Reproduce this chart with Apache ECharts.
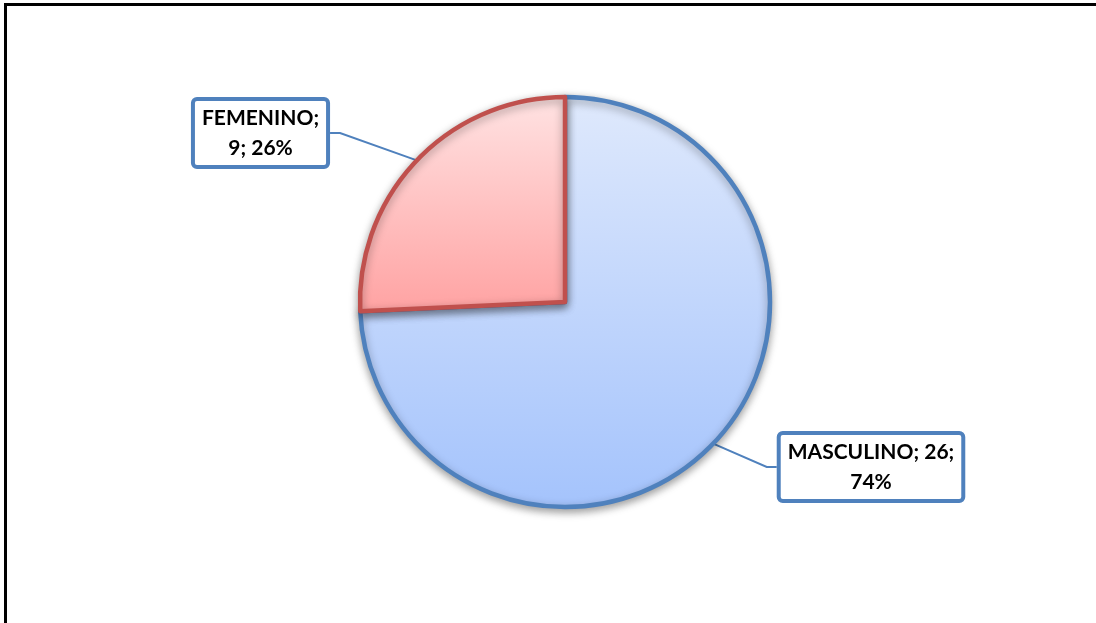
<!DOCTYPE html>
<html>
<head>
<meta charset="utf-8">
<script src="https://cdn.jsdelivr.net/npm/echarts@6/dist/echarts.min.js"></script>
<style>
  html, body { margin: 0; padding: 0; background: #fff; }
  #chart { width: 1096px; height: 623px; }
</style>
</head>
<body>
<div id="chart"></div>
<script>
// Distribución por sexo
const categories = ['MASCULINO', 'FEMENINO'];
const values = [26, 9];
// how many "; "-separated parts go on the first line of each label
const firstLineParts = [2, 1];

const fills = [
  ['#dfe9fc', '#a4c3fc'],
  ['#ffe3e3', '#ffa2a2']
];
const strokes = ['#4f81bd', '#c0504d'];
// label box centres
const labelCentres = [[871, 467], [260.5, 133]];

const chart = echarts.init(document.getElementById('chart'), null, { renderer: 'canvas' });

const data = categories.map((name, i) => ({
  name: name,
  value: values[i],
  itemStyle: {
    color: new echarts.graphic.LinearGradient(0, 0, 0, 1, [
      { offset: 0, color: fills[i][0] },
      { offset: 1, color: fills[i][1] }
    ]),
    borderColor: strokes[i]
  }
}));

chart.setOption({
  backgroundColor: '#ffffff',
  animation: false,
  graphic: [{
    type: 'polyline',
    shape: { points: [[5.5, 623], [5.5, 4.5], [1096, 4.5]] },
    style: { stroke: '#000', lineWidth: 3, fill: null },
    silent: true
  }],
  series: [{
    type: 'pie',
    center: [565, 302],
    radius: 205,
    startAngle: 90,
    clockwise: true,
    percentPrecision: 0,
    itemStyle: {
      borderWidth: 4.5,
      shadowBlur: 8,
      shadowOffsetY: 3,
      shadowColor: 'rgba(0,0,0,0.35)'
    },
    emphasis: { disabled: true },
    label: {
      show: true,
      position: 'outside',
      formatter: function (p) {
        const parts = [p.name, String(p.value), p.percent + '%'];
        const n = firstLineParts[p.dataIndex];
        return parts.slice(0, n).join('; ') + ';\n' + parts.slice(n).join('; ');
      },
      fontFamily: 'Lato',
      fontWeight: 'bold',
      fontSize: 21,
      lineHeight: 30,
      color: '#000',
      align: 'center',
      backgroundColor: '#ffffff',
      borderColor: '#4f81bd',
      borderWidth: 4,
      borderRadius: 2,
      padding: [2, 7]
    },
    labelLine: {
      show: true,
      length: 20,
      length2: 10,
      smooth: false,
      lineStyle: { color: '#4f81bd', width: 2 }
    },
    labelLayout: function (params) {
      const c = labelCentres[params.dataIndex];
      return { x: c[0], y: c[1], align: 'center', verticalAlign: 'middle' };
    },
    data: data
  }]
});
</script>
</body>
</html>
